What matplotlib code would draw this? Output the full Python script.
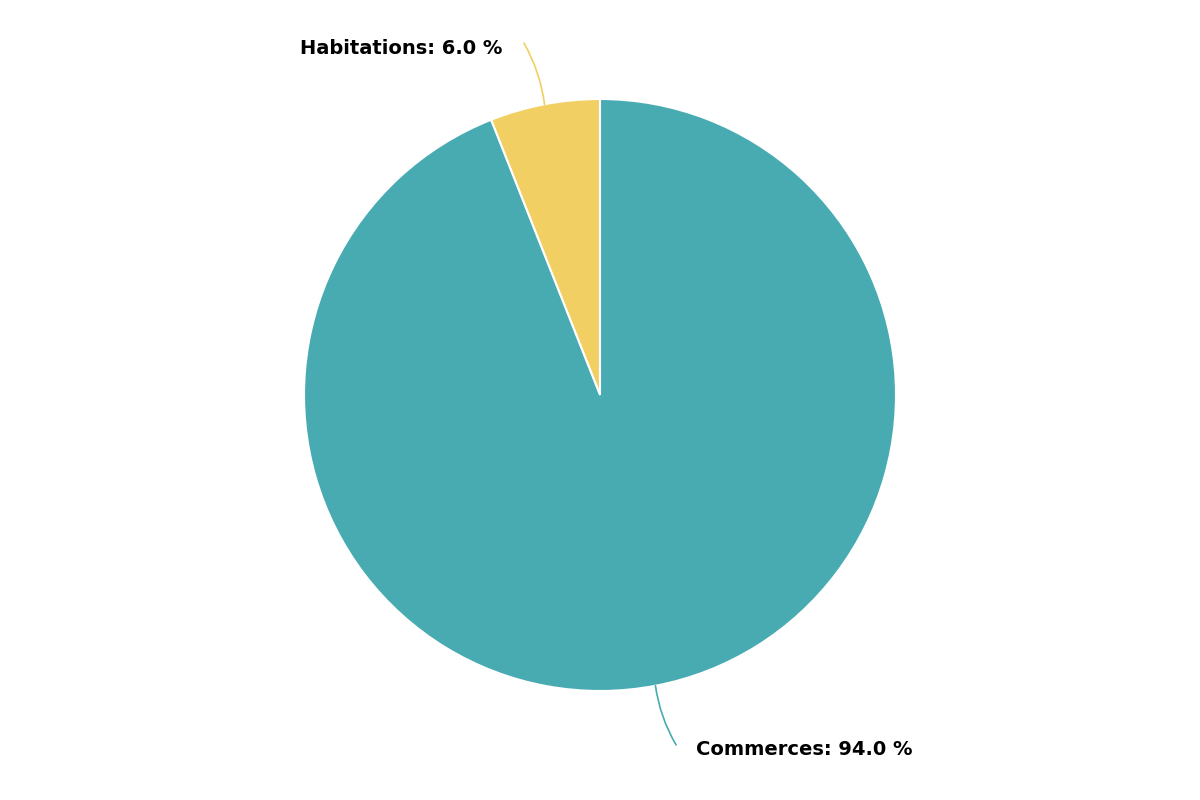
import matplotlib.pyplot as plt
import numpy as np

# Data
labels = ['Habitations', 'Commerces']
values = [6.0, 94.0]
colors = ['#f2cf63', '#48abb2']

fig = plt.figure(figsize=(12, 8), dpi=100)
ax = fig.add_axes([0, 0, 1, 1])

wedges, _ = ax.pie(values, colors=colors, startangle=90, counterclock=True,
                   wedgeprops={'edgecolor': 'white', 'linewidth': 1.5})

ax.set_aspect('equal')
ax.set_xlim(-600 / 296, 600 / 296)
ax.set_ylim(-405 / 296, 395 / 296)
ax.axis('off')

# Label placement (line end and text anchor) per slice
line_ends = [(-0.257, 1.189), (0.257, -1.182)]
text_pos = [(-0.331, 1.172), (0.324, -1.199)]
aligns = ['right', 'left']

for w, lab, val, col, le, tp, ha in zip(wedges, labels, values, colors,
                                         line_ends, text_pos, aligns):
    ang = np.deg2rad((w.theta1 + w.theta2) / 2)
    edge = (np.cos(ang), np.sin(ang))
    ax.annotate('', xy=le, xytext=edge,
                arrowprops=dict(arrowstyle='-', color=col, lw=1.2,
                                shrinkA=0, shrinkB=0,
                                connectionstyle='arc3,rad=0.1'))
    ax.text(tp[0], tp[1], f'{lab}: {val:.1f} %', ha=ha, va='center',
            fontsize=14, fontweight='bold', color='black')

plt.savefig('out.png', dpi=100)
